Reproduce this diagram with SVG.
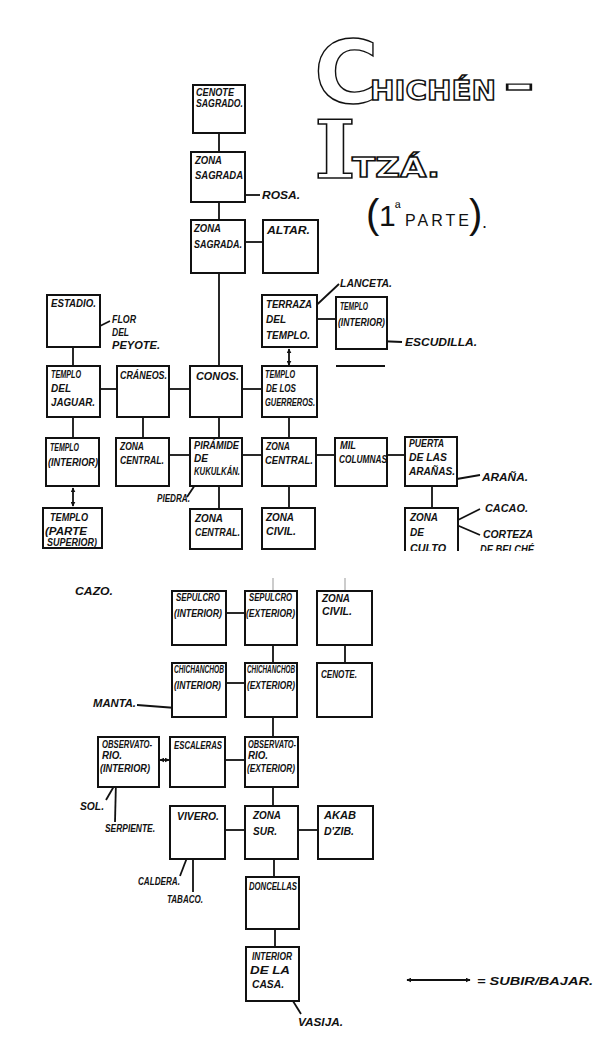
<svg xmlns="http://www.w3.org/2000/svg" width="613" height="1044" viewBox="0 0 613 1044">
<style>
.b{fill:#fff;stroke:#111;stroke-width:2}
.c{stroke:#111;stroke-width:1.8;fill:none}
.t{font-family:"Liberation Sans",Arial,sans-serif;font-size:10px;font-weight:bold;font-style:italic;fill:#111}
.l{font-family:"Liberation Sans",Arial,sans-serif;font-size:10.5px;font-weight:bold;font-style:italic;fill:#111}
.o{font-family:"DejaVu Sans",sans-serif;font-weight:bold;fill:#fff;stroke:#111;stroke-width:1.4}
.p{font-family:"Liberation Sans",Arial,sans-serif;fill:#111}
.d{fill:#111}
</style>
<defs>
<marker id="ah" viewBox="0 0 8 8" refX="7" refY="4" markerWidth="5" markerHeight="5" orient="auto-start-reverse" markerUnits="userSpaceOnUse">
<path d="M0,0 L8,4 L0,8 Z" fill="#111"/>
</marker>
<clipPath id="cut"><rect x="0" y="0" width="613" height="551"/></clipPath>
</defs>
<rect width="613" height="1044" fill="#fff"/>

<g id="title">
<text class="o" stroke-width="1.6"><tspan x="314" y="103" font-size="88">C</tspan><tspan x="314" y="178" font-family="DejaVu Serif, serif" font-size="80" textLength="42" lengthAdjust="spacingAndGlyphs">I</tspan></text>
<text class="o" x="370" y="100" font-size="26" textLength="126" lengthAdjust="spacingAndGlyphs">HICHÉN</text>
<text class="o" x="503" y="99" font-size="40" textLength="32" lengthAdjust="spacingAndGlyphs">-</text>
<text class="o" x="352" y="177" font-size="26" textLength="88" lengthAdjust="spacingAndGlyphs">TZÁ.</text>
<text class="p"><tspan x="366" y="228" font-size="40">(</tspan><tspan x="379" y="226" font-size="30">1</tspan><tspan x="395" y="213" font-size="15">ª</tspan><tspan x="405" y="226" font-size="16" letter-spacing="3">PARTE</tspan><tspan x="469" y="228" font-size="40">)</tspan><tspan x="482" y="228" font-size="18">.</tspan></text>
</g>

<g id="connectors">
<line class="c" x1="219" y1="133" x2="219" y2="152"/>
<line class="c" x1="219" y1="202" x2="219" y2="220"/>
<line class="c" x1="219" y1="273" x2="219" y2="366"/>
<line class="c" x1="245" y1="242" x2="263" y2="242"/>
<line class="c" x1="317" y1="319" x2="336" y2="319"/>
<line class="c" x1="336" y1="366" x2="385" y2="366"/>
<line class="c" x1="73" y1="347" x2="73" y2="366"/>
<line class="c" x1="289" y1="349" x2="289" y2="365" marker-start="url(#ah)" marker-end="url(#ah)"/>
<line class="c" x1="100" y1="389" x2="117" y2="389"/>
<line class="c" x1="169" y1="389" x2="190" y2="389"/>
<line class="c" x1="242" y1="389" x2="262" y2="389"/>
<line class="c" x1="73" y1="417" x2="73" y2="438"/>
<line class="c" x1="143" y1="417" x2="143" y2="438"/>
<line class="c" x1="219" y1="417" x2="219" y2="438"/>
<line class="c" x1="289" y1="417" x2="289" y2="438"/>
<line class="c" x1="169" y1="455" x2="190" y2="455"/>
<line class="c" x1="242" y1="455" x2="262" y2="455"/>
<line class="c" x1="316" y1="455" x2="335" y2="455"/>
<line class="c" x1="387" y1="455" x2="405" y2="455"/>
<line class="c" x1="73" y1="488" x2="73" y2="506" marker-start="url(#ah)" marker-end="url(#ah)"/>
<line class="c" x1="219" y1="486" x2="219" y2="509"/>
<line class="c" x1="289" y1="486" x2="289" y2="508"/>
<line class="c" x1="432" y1="486" x2="432" y2="508"/>

<line x1="273" y1="578" x2="273" y2="591" stroke="#bbb" stroke-width="1.5"/>
<line x1="345" y1="578" x2="345" y2="591" stroke="#bbb" stroke-width="1.5"/>
<line class="c" x1="226" y1="613" x2="245" y2="613"/>
<line class="c" x1="273" y1="645" x2="273" y2="663"/>
<line class="c" x1="345" y1="645" x2="345" y2="663"/>
<line class="c" x1="226" y1="683" x2="245" y2="683"/>
<line class="c" x1="273" y1="717" x2="273" y2="737"/>
<line class="c" x1="160" y1="760" x2="169" y2="760" marker-start="url(#ah)" marker-end="url(#ah)"/>
<line class="c" x1="225" y1="760" x2="245" y2="760"/>
<line class="c" x1="273" y1="787" x2="273" y2="806"/>
<line class="c" x1="225" y1="830" x2="245" y2="830"/>
<line class="c" x1="298" y1="830" x2="318" y2="830"/>
<line class="c" x1="274" y1="859" x2="274" y2="877"/>
<line class="c" x1="275" y1="929" x2="275" y2="947"/>
</g>

<g id="annotations">
<circle class="d" cx="238" cy="195" r="2"/><line class="c" x1="238" y1="195" x2="260" y2="195"/>
<circle class="d" cx="92" cy="330" r="2"/><line class="c" x1="92" y1="330" x2="110" y2="321"/>
<circle class="d" cx="308" cy="313" r="2"/><line class="c" x1="308" y1="313" x2="339" y2="284"/>
<circle class="d" cx="378" cy="341" r="2"/><line class="c" x1="378" y1="341" x2="402" y2="342"/>
<circle class="d" cx="197" cy="482" r="2"/><line class="c" x1="197" y1="482" x2="187" y2="497"/>
<circle class="d" cx="451" cy="480" r="2"/><line class="c" x1="451" y1="480" x2="480" y2="475"/>
<circle class="d" cx="452" cy="523" r="2"/><line class="c" x1="452" y1="523" x2="480" y2="509"/><line class="c" x1="452" y1="523" x2="480" y2="535"/>
<circle class="d" cx="177" cy="633" r="1.3"/>
<circle class="d" cx="176" cy="708" r="2"/><line class="c" x1="137" y1="705" x2="176" y2="708"/>
<circle class="d" cx="117" cy="781" r="2"/><line class="c" x1="117" y1="781" x2="106" y2="800"/><line class="c" x1="116" y1="781" x2="115" y2="822"/>
<circle class="d" cx="193" cy="842" r="2"/><line class="c" x1="193" y1="842" x2="180" y2="876"/><line class="c" x1="193" y1="842" x2="193" y2="892"/>
<circle class="d" cx="288" cy="993" r="2"/><line class="c" x1="288" y1="993" x2="301" y2="1014"/>
<text class="l" x="262" y="199" textLength="38" lengthAdjust="spacingAndGlyphs">ROSA.</text>
<text class="l" x="112" y="323" textLength="24" lengthAdjust="spacingAndGlyphs">FLOR</text>
<text class="l" x="112" y="336" textLength="17" lengthAdjust="spacingAndGlyphs">DEL</text>
<text class="l" x="112" y="349" textLength="48" lengthAdjust="spacingAndGlyphs">PEYOTE.</text>
<text class="l" x="340" y="287" textLength="52" lengthAdjust="spacingAndGlyphs">LANCETA.</text>
<text class="l" x="405" y="346" textLength="72" lengthAdjust="spacingAndGlyphs">ESCUDILLA.</text>
<text class="t" x="157" y="502" textLength="33" lengthAdjust="spacingAndGlyphs">PIEDRA.</text>
<text class="l" x="482" y="481" textLength="46" lengthAdjust="spacingAndGlyphs">ARAÑA.</text>
<text class="l" x="485" y="512" textLength="43" lengthAdjust="spacingAndGlyphs">CACAO.</text>
<g clip-path="url(#cut)">
<text class="l" x="483" y="538" textLength="50" lengthAdjust="spacingAndGlyphs">CORTEZA</text>
<text class="l" x="480" y="553" textLength="54" lengthAdjust="spacingAndGlyphs">DE BELCHÉ</text>
</g>
<text class="l" x="75" y="595" textLength="38" lengthAdjust="spacingAndGlyphs" fill="#333">CAZO.</text>
<text class="l" x="93" y="707" textLength="43" lengthAdjust="spacingAndGlyphs">MANTA.</text>
<text class="t" x="80" y="810" textLength="24" lengthAdjust="spacingAndGlyphs">SOL.</text>
<text class="t" x="105" y="832" textLength="50" lengthAdjust="spacingAndGlyphs">SERPIENTE.</text>
<text class="t" x="138" y="885" textLength="42" lengthAdjust="spacingAndGlyphs">CALDERA.</text>
<text class="t" x="167" y="903" textLength="36" lengthAdjust="spacingAndGlyphs">TABACO.</text>
<text class="l" x="298" y="1026" textLength="45" lengthAdjust="spacingAndGlyphs">VASIJA.</text>
</g>

<g id="n-cenote-sagrado"><rect class="b" x="193" y="85" width="52" height="48"/><text class="t" x="196" y="96" textLength="38" lengthAdjust="spacingAndGlyphs">CENOTE</text><text class="t" x="196" y="107" textLength="47" lengthAdjust="spacingAndGlyphs">SAGRADO.</text></g>
<g id="n-zona-sagrada-1"><rect class="b" x="191" y="152" width="54" height="50"/><text class="t" x="195" y="164" textLength="27" lengthAdjust="spacingAndGlyphs">ZONA</text><text class="t" x="195" y="179" textLength="48" lengthAdjust="spacingAndGlyphs">SAGRADA</text></g>
<g id="n-zona-sagrada-2"><rect class="b" x="191" y="220" width="54" height="53"/><text class="t" x="194" y="232" textLength="27" lengthAdjust="spacingAndGlyphs">ZONA</text><text class="t" x="194" y="248" textLength="48" lengthAdjust="spacingAndGlyphs">SAGRADA.</text></g>
<g id="n-altar"><rect class="b" x="263" y="220" width="55" height="53"/><text class="t" x="267" y="234" textLength="43" lengthAdjust="spacingAndGlyphs">ALTAR.</text></g>
<g id="n-estadio"><rect class="b" x="47" y="295" width="53" height="52"/><text class="t" x="51" y="307" textLength="45" lengthAdjust="spacingAndGlyphs">ESTADIO.</text></g>
<g id="n-terraza"><rect class="b" x="262" y="295" width="55" height="52"/><text class="t" x="266" y="308" textLength="46" lengthAdjust="spacingAndGlyphs">TERRAZA</text><text class="t" x="266" y="323" textLength="20" lengthAdjust="spacingAndGlyphs">DEL</text><text class="t" x="266" y="339" textLength="44" lengthAdjust="spacingAndGlyphs">TEMPLO.</text></g>
<g id="n-templo-interior-r"><rect class="b" x="336" y="297" width="51" height="52"/><text class="t" x="340" y="310" textLength="28" lengthAdjust="spacingAndGlyphs">TEMPLO</text><text class="t" x="338" y="326" textLength="47" lengthAdjust="spacingAndGlyphs">(INTERIOR)</text></g>
<g id="n-jaguar"><rect class="b" x="47" y="366" width="53" height="51"/><text class="t" x="51" y="378" textLength="30" lengthAdjust="spacingAndGlyphs">TEMPLO</text><text class="t" x="51" y="392" textLength="20" lengthAdjust="spacingAndGlyphs">DEL</text><text class="t" x="51" y="406" textLength="44" lengthAdjust="spacingAndGlyphs">JAGUAR.</text></g>
<g id="n-craneos"><rect class="b" x="117" y="366" width="52" height="51"/><text class="t" x="120" y="379" textLength="47" lengthAdjust="spacingAndGlyphs">CRÁNEOS.</text></g>
<g id="n-conos"><rect class="b" x="190" y="366" width="52" height="51"/><text class="t" x="196" y="380" textLength="43" lengthAdjust="spacingAndGlyphs">CONOS.</text></g>
<g id="n-guerreros"><rect class="b" x="262" y="366" width="55" height="51"/><text class="t" x="265" y="378" textLength="30" lengthAdjust="spacingAndGlyphs">TEMPLO</text><text class="t" x="266" y="392" textLength="30" lengthAdjust="spacingAndGlyphs">DE LOS</text><text class="t" x="265" y="406" textLength="50" lengthAdjust="spacingAndGlyphs">GUERREROS.</text></g>
<g id="n-templo-interior-l"><rect class="b" x="46" y="438" width="53" height="48"/><text class="t" x="50" y="451" textLength="29" lengthAdjust="spacingAndGlyphs">TEMPLO</text><text class="t" x="48" y="466" textLength="50" lengthAdjust="spacingAndGlyphs">(INTERIOR)</text></g>
<g id="n-zona-central-l"><rect class="b" x="116" y="438" width="53" height="48"/><text class="t" x="120" y="450" textLength="24" lengthAdjust="spacingAndGlyphs">ZONA</text><text class="t" x="120" y="464" textLength="44" lengthAdjust="spacingAndGlyphs">CENTRAL.</text></g>
<g id="n-kukulkan"><rect class="b" x="190" y="438" width="52" height="48"/><text class="t" x="194" y="449" textLength="45" lengthAdjust="spacingAndGlyphs">PIRÁMIDE</text><text class="t" x="194" y="462" textLength="14" lengthAdjust="spacingAndGlyphs">DE</text><text class="t" x="194" y="475" textLength="46" lengthAdjust="spacingAndGlyphs">KUKULKÁN.</text></g>
<g id="n-zona-central-r"><rect class="b" x="262" y="438" width="54" height="48"/><text class="t" x="266" y="450" textLength="24" lengthAdjust="spacingAndGlyphs">ZONA</text><text class="t" x="265" y="464" textLength="48" lengthAdjust="spacingAndGlyphs">CENTRAL.</text></g>
<g id="n-mil-columnas"><rect class="b" x="335" y="438" width="52" height="48"/><text class="t" x="340" y="449" textLength="16" lengthAdjust="spacingAndGlyphs">MIL</text><text class="t" x="339" y="463" textLength="48" lengthAdjust="spacingAndGlyphs">COLUMNAS</text></g>
<g id="n-puerta-aranas"><rect class="b" x="405" y="437" width="52" height="49"/><text class="t" x="409" y="447" textLength="35" lengthAdjust="spacingAndGlyphs">PUERTA</text><text class="t" x="409" y="461" textLength="38" lengthAdjust="spacingAndGlyphs">DE LAS</text><text class="t" x="409" y="475" textLength="46" lengthAdjust="spacingAndGlyphs">ARAÑAS.</text></g>
<g id="n-templo-superior"><rect class="b" x="43" y="508" width="59" height="40"/><text class="t" x="50" y="521" textLength="38" lengthAdjust="spacingAndGlyphs">TEMPLO</text><text class="t" x="45" y="535" textLength="42" lengthAdjust="spacingAndGlyphs">(PARTE</text><text class="t" x="47" y="546" font-size="7.5" textLength="50" lengthAdjust="spacingAndGlyphs">SUPERIOR)</text></g>
<g id="n-zona-central-b"><rect class="b" x="190" y="509" width="52" height="40"/><text class="t" x="195" y="522" textLength="28" lengthAdjust="spacingAndGlyphs">ZONA</text><text class="t" x="195" y="536" textLength="45" lengthAdjust="spacingAndGlyphs">CENTRAL.</text></g>
<g id="n-zona-civil-1"><rect class="b" x="262" y="508" width="53" height="41"/><text class="t" x="266" y="521" textLength="28" lengthAdjust="spacingAndGlyphs">ZONA</text><text class="t" x="266" y="535" textLength="30" lengthAdjust="spacingAndGlyphs">CIVIL.</text></g>
<g id="n-zona-culto" clip-path="url(#cut)"><rect class="b" x="405" y="508" width="53" height="45"/><text class="t" x="410" y="521" textLength="28" lengthAdjust="spacingAndGlyphs">ZONA</text><text class="t" x="410" y="536" textLength="14" lengthAdjust="spacingAndGlyphs">DE</text><text class="t" x="410" y="552" textLength="36" lengthAdjust="spacingAndGlyphs">CULTO</text></g>

<g id="n-sepulcro-int"><rect class="b" x="172" y="591" width="54" height="54"/><text class="t" x="176" y="601" font-size="8.5" textLength="44" lengthAdjust="spacingAndGlyphs">SEPULCRO</text><text class="t" x="174" y="617" textLength="48" lengthAdjust="spacingAndGlyphs">(INTERIOR)</text></g>
<g id="n-sepulcro-ext"><rect class="b" x="245" y="591" width="52" height="54"/><text class="t" x="249" y="601" font-size="8.5" textLength="43" lengthAdjust="spacingAndGlyphs">SEPULCRO</text><text class="t" x="246" y="617" textLength="49" lengthAdjust="spacingAndGlyphs">(EXTERIOR)</text></g>
<g id="n-zona-civil-2"><rect class="b" x="317" y="591" width="55" height="54"/><text class="t" x="322" y="602" textLength="28" lengthAdjust="spacingAndGlyphs">ZONA</text><text class="t" x="322" y="615" textLength="30" lengthAdjust="spacingAndGlyphs">CIVIL.</text></g>
<g id="n-chich-int"><rect class="b" x="172" y="663" width="54" height="54"/><text class="t" x="174" y="673" font-size="8.5" textLength="50" lengthAdjust="spacingAndGlyphs">CHICHANCHOB</text><text class="t" x="174" y="689" textLength="47" lengthAdjust="spacingAndGlyphs">(INTERIOR)</text></g>
<g id="n-chich-ext"><rect class="b" x="245" y="663" width="52" height="54"/><text class="t" x="247" y="673" font-size="8.5" textLength="48" lengthAdjust="spacingAndGlyphs">CHICHANCHOB</text><text class="t" x="247" y="689" textLength="48" lengthAdjust="spacingAndGlyphs">(EXTERIOR)</text></g>
<g id="n-cenote"><rect class="b" x="317" y="663" width="55" height="54"/><text class="t" x="321" y="678" textLength="36" lengthAdjust="spacingAndGlyphs">CENOTE.</text></g>
<g id="n-obs-int"><rect class="b" x="98" y="737" width="61" height="50"/><text class="t" x="102" y="748" font-size="8.5" textLength="50" lengthAdjust="spacingAndGlyphs">OBSERVATO-</text><text class="t" x="102" y="759" font-size="8.5" textLength="20" lengthAdjust="spacingAndGlyphs">RIO.</text><text class="t" x="100" y="772" textLength="50" lengthAdjust="spacingAndGlyphs">(INTERIOR)</text></g>
<g id="n-escaleras"><rect class="b" x="170" y="737" width="55" height="50"/><text class="t" x="174" y="749" textLength="48" lengthAdjust="spacingAndGlyphs">ESCALERAS</text></g>
<g id="n-obs-ext"><rect class="b" x="245" y="737" width="53" height="50"/><text class="t" x="248" y="748" font-size="8.5" textLength="48" lengthAdjust="spacingAndGlyphs">OBSERVATO-</text><text class="t" x="248" y="759" font-size="8.5" textLength="20" lengthAdjust="spacingAndGlyphs">RIO.</text><text class="t" x="247" y="772" textLength="48" lengthAdjust="spacingAndGlyphs">(EXTERIOR)</text></g>
<g id="n-vivero"><rect class="b" x="170" y="806" width="55" height="53"/><text class="t" x="177" y="820" textLength="42" lengthAdjust="spacingAndGlyphs">VIVERO.</text></g>
<g id="n-zona-sur"><rect class="b" x="245" y="806" width="53" height="53"/><text class="t" x="253" y="819" textLength="28" lengthAdjust="spacingAndGlyphs">ZONA</text><text class="t" x="253" y="835" textLength="24" lengthAdjust="spacingAndGlyphs">SUR.</text></g>
<g id="n-akab-dzib"><rect class="b" x="318" y="806" width="55" height="53"/><text class="t" x="324" y="819" textLength="32" lengthAdjust="spacingAndGlyphs">AKAB</text><text class="t" x="324" y="835" textLength="30" lengthAdjust="spacingAndGlyphs">D'ZIB.</text></g>
<g id="n-doncellas"><rect class="b" x="246" y="877" width="53" height="52"/><text class="t" x="249" y="890" textLength="48" lengthAdjust="spacingAndGlyphs">DONCELLAS</text></g>
<g id="n-interior-casa"><rect class="b" x="246" y="947" width="53" height="54"/><text class="t" x="252" y="960" textLength="40" lengthAdjust="spacingAndGlyphs">INTERIOR</text><text class="t" x="250" y="974" textLength="40" lengthAdjust="spacingAndGlyphs">DE   LA</text><text class="t" x="252" y="988" textLength="32" lengthAdjust="spacingAndGlyphs">CASA.</text></g>

<g id="legend">
<line class="c" x1="407" y1="980" x2="470" y2="980" marker-start="url(#ah)" marker-end="url(#ah)"/>
<text class="l" x="477" y="985" textLength="116" lengthAdjust="spacingAndGlyphs">= SUBIR/BAJAR.</text>
</g>
</svg>
